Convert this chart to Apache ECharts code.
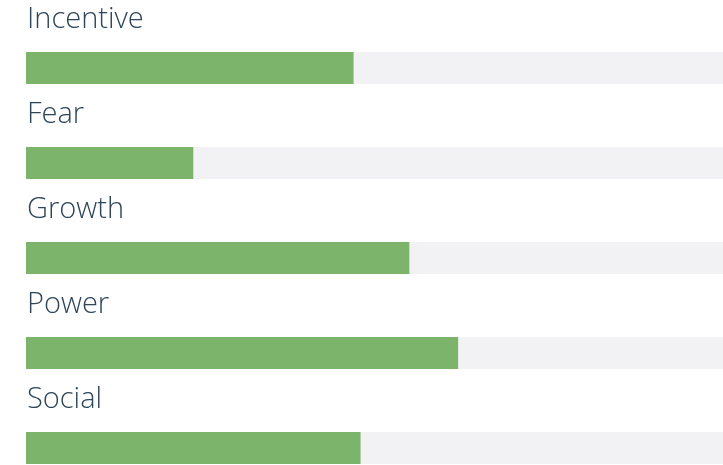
<!DOCTYPE html>
<html>
<head>
<meta charset="utf-8">
<script src="https://cdn.jsdelivr.net/npm/echarts@6/dist/echarts.min.js"></script>
<style>html,body{margin:0;padding:0;background:#fff}#c{width:723px;height:465px}</style>
</head>
<body>
<div id="c"></div>
<script>
var categories = ["Incentive", "Fear", "Growth", "Power", "Social"];
var values = [47, 24, 55, 62, 48];
var maxValue = 100;

var chart = echarts.init(document.getElementById('c'), null, {renderer: 'canvas'});
chart.setOption({
  animation: false,
  backgroundColor: '#ffffff',
  grid: {left: 26, right: 0, top: 20.5, height: 475, containLabel: false, outerBoundsMode: 'none'},
  xAxis: {type: 'value', min: 0, max: maxValue, show: false},
  yAxis: {type: 'category', data: categories, inverse: true, show: false},
  series: [{
    type: 'bar',
    data: values,
    barWidth: 32,
    itemStyle: {color: '#7db46c'},
    showBackground: true,
    backgroundStyle: {color: '#f2f2f4'},
    label: {
      show: true,
      position: [1, -32],
      verticalAlign: 'middle',
      align: 'left',
      formatter: function (p) { return p.name; },
      fontFamily: 'Open Sans',
      fontWeight: 300,
      fontSize: 29,
      color: '#2f4659'
    }
  }]
});
</script>
</body>
</html>
